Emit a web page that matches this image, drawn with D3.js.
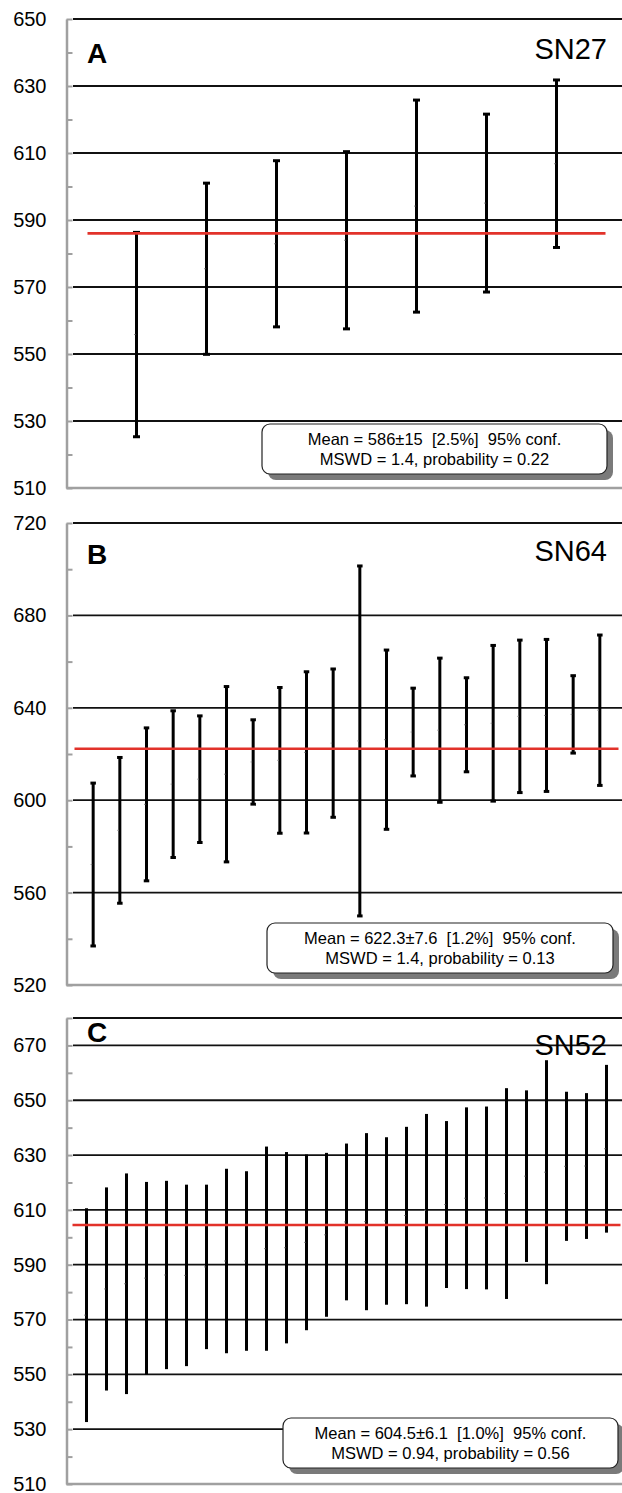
<!DOCTYPE html>
<html>
<head>
<meta charset="utf-8">
<script src="https://cdn.jsdelivr.net/npm/d3@7"></script>
<style>
  body { margin: 0; background: #fff; }
  svg { display: block; }
  text { font-family: "Liberation Sans", Arial, sans-serif; }
</style>
</head>
<body>
<div id="chart"></div>
<script>
// ---- data ----
const panelLetters = ["A", "B", "C"];
const sampleNames = ["SN27", "SN64", "SN52"];

const sn27Hi = [586.3, 601.0, 607.7, 610.4, 625.8, 621.6, 631.8];
const sn27Lo = [525.3, 549.9, 558.1, 557.5, 562.5, 568.5, 581.8];

const sn64Hi = [607.4, 618.5, 631.3, 638.7, 636.5, 649.2, 634.8, 648.8, 655.6, 656.8,
                701.4, 665.0, 648.5, 661.5, 653.0, 667.0, 669.3, 669.6, 653.9, 671.5];
const sn64Lo = [536.9, 555.4, 565.1, 575.2, 581.7, 573.3, 598.3, 585.7, 585.8, 592.6,
                549.9, 587.4, 610.5, 599.1, 612.3, 599.6, 603.3, 603.8, 620.4, 606.4];

const sn52Hi = [610.6, 618.2, 623.3, 620.2, 620.6, 619.2, 619.2, 625.0, 624.1, 633.1,
                631.1, 630.2, 630.8, 634.2, 638.0, 636.5, 640.3, 645.0, 642.4, 647.4,
                647.7, 654.4, 653.6, 664.6, 653.1, 652.6, 662.9];
const sn52Lo = [532.6, 544.1, 542.8, 550.0, 551.9, 553.0, 559.2, 557.7, 558.6, 558.6,
                561.3, 566.1, 571.0, 577.0, 573.4, 575.4, 575.6, 574.7, 581.5, 581.1,
                581.0, 577.5, 591.0, 582.9, 598.7, 599.4, 601.7];

const weightedMeans = [586, 622.3, 604.5];

const statLine1 = [
  "Mean = 586\u00b115  [2.5%]  95% conf.",
  "Mean = 622.3\u00b17.6  [1.2%]  95% conf.",
  "Mean = 604.5\u00b16.1  [1.0%]  95% conf."
];
const statLine2 = [
  "MSWD = 1.4, probability = 0.22",
  "MSWD = 1.4, probability = 0.13",
  "MSWD = 0.94, probability = 0.56"
];

const ticksA = [510, 530, 550, 570, 590, 610, 630, 650];
const minorA = [520, 540, 560, 580, 600, 620, 640];
const ticksB = [520, 560, 600, 640, 680, 720];
const minorB = [540, 580, 620, 660, 700];
const ticksC = [510, 530, 550, 570, 590, 610, 630, 650, 670];
const minorC = [520, 540, 560, 580, 600, 620, 640, 660];

// ---- layout ----
const W = 622, H = 1493;
const left = 66.5, plotW = 560;

const panels = [
  { hi: sn27Hi, lo: sn27Lo, ticks: ticksA, minor: minorA, domain: [510, 650],
    top: 19, bottom: 488, caps: 7, letterY: 44, nameY: 40,
    box: { x: 262, y: 424, w: 345, h: 50 } },
  { hi: sn64Hi, lo: sn64Lo, ticks: ticksB, minor: minorB, domain: [520, 720],
    top: 523, bottom: 985, caps: 5.5, letterY: 41, nameY: 38,
    box: { x: 267, y: 923, w: 346, h: 50 } },
  { hi: sn52Hi, lo: sn52Lo, ticks: ticksC, minor: minorC, domain: [510, 680],
    top: 1018, bottom: 1484, caps: 0, letterY: 24, nameY: 37,
    box: { x: 283, y: 1418, w: 335, h: 50 } }
];

const svg = d3.select("#chart").append("svg")
  .attr("width", W)
  .attr("height", H);

panels.forEach((p, k) => {
  const n = p.hi.length;
  const x = d3.scaleLinear().domain([0, n + 1]).range([left, left + plotW]);
  const y = d3.scaleLinear().domain(p.domain).range([p.bottom, p.top]);
  const g = svg.append("g");

  // gridlines (major ticks) plus top border
  const gridVals = p.ticks.filter(v => v > p.domain[0]).concat(
    p.ticks.includes(p.domain[1]) ? [] : [p.domain[1]]);
  g.append("g").selectAll("line").data(gridVals).join("line")
    .attr("x1", left + 6.5).attr("x2", W)
    .attr("y1", d => y(d)).attr("y2", d => y(d))
    .attr("stroke", "#111").attr("stroke-width", 1.8);

  // bottom axis (gray)
  g.append("line")
    .attr("x1", left).attr("x2", W)
    .attr("y1", p.bottom).attr("y2", p.bottom)
    .attr("stroke", "#a0a0a0").attr("stroke-width", 2.5);

  // left axis with inward ticks
  const axis = g.append("g")
    .attr("transform", `translate(${left},0)`)
    .call(d3.axisLeft(y).tickValues(p.ticks).tickSize(-6).tickSizeOuter(0).tickPadding(20));
  axis.select(".domain").attr("stroke", "#a0a0a0").attr("stroke-width", 2.5);
  axis.selectAll(".tick line").attr("stroke", "#a0a0a0").attr("stroke-width", 2);
  axis.selectAll(".tick text")
    .attr("fill", "#000")
    .style("font-size", "20px")
    .style("font-family", '"Liberation Sans", Arial, sans-serif');

  const minorTop = p.ticks.includes(p.domain[1]) ? p.minor : p.minor.concat([p.domain[1]]);
  g.append("g")
    .attr("transform", `translate(${left},0)`)
    .call(d3.axisLeft(y).tickValues(minorTop).tickSize(-6).tickFormat(""))
    .call(a => a.select(".domain").remove())
    .call(a => a.selectAll(".tick line").attr("stroke", "#a0a0a0").attr("stroke-width", 2));

  // error bars
  const idx = d3.range(n);
  g.append("g").selectAll("line").data(idx).join("line")
    .attr("x1", i => x(i + 1)).attr("x2", i => x(i + 1))
    .attr("y1", i => y(p.hi[i])).attr("y2", i => y(p.lo[i]))
    .attr("stroke", "#000").attr("stroke-width", 3);

  // faint mid-point notch
  g.append("g").selectAll("line").data(idx).join("line")
    .attr("x1", i => x(i + 1) - 2.5).attr("x2", i => x(i + 1) - 1)
    .attr("y1", i => y((p.hi[i] + p.lo[i]) / 2)).attr("y2", i => y((p.hi[i] + p.lo[i]) / 2))
    .attr("stroke", "#888").attr("stroke-width", 1);

  if (p.caps > 0) {
    ["hi", "lo"].forEach(key => {
      g.append("g").selectAll("line").data(idx).join("line")
        .attr("x1", i => x(i + 1) - p.caps / 2).attr("x2", i => x(i + 1) + p.caps / 2)
        .attr("y1", i => y(p[key][i])).attr("y2", i => y(p[key][i]))
        .attr("stroke", "#000").attr("stroke-width", 3);
    });
  }

  // weighted mean line
  g.append("line")
    .attr("x1", x(0.3)).attr("x2", x(n + 0.7))
    .attr("y1", y(weightedMeans[k])).attr("y2", y(weightedMeans[k]))
    .attr("stroke", "#e2322a").attr("stroke-width", 2.6);

  // panel letter and sample name
  g.append("text")
    .attr("x", 87).attr("y", p.top + p.letterY)
    .style("font-size", "28px").style("font-weight", "bold")
    .text(panelLetters[k]);
  g.append("text")
    .attr("x", 607).attr("y", p.top + p.nameY)
    .attr("text-anchor", "end")
    .style("font-size", "29px")
    .text(sampleNames[k]);

  // stats box with shadow
  const b = p.box;
  g.append("rect")
    .attr("x", b.x + 6).attr("y", b.y + 6).attr("width", b.w).attr("height", b.h)
    .attr("rx", 8).attr("fill", "#7a7a7a");
  g.append("rect")
    .attr("x", b.x).attr("y", b.y).attr("width", b.w).attr("height", b.h)
    .attr("rx", 8).attr("fill", "#fff").attr("stroke", "#222").attr("stroke-width", 1.2);
  g.append("text")
    .attr("x", b.x + b.w / 2).attr("y", b.y + 21)
    .attr("text-anchor", "middle").style("font-size", "16.5px")
    .style("white-space", "pre")
    .text(statLine1[k]);
  g.append("text")
    .attr("x", b.x + b.w / 2).attr("y", b.y + 41)
    .attr("text-anchor", "middle").style("font-size", "16.5px")
    .style("white-space", "pre")
    .text(statLine2[k]);
});
</script>
</body>
</html>
